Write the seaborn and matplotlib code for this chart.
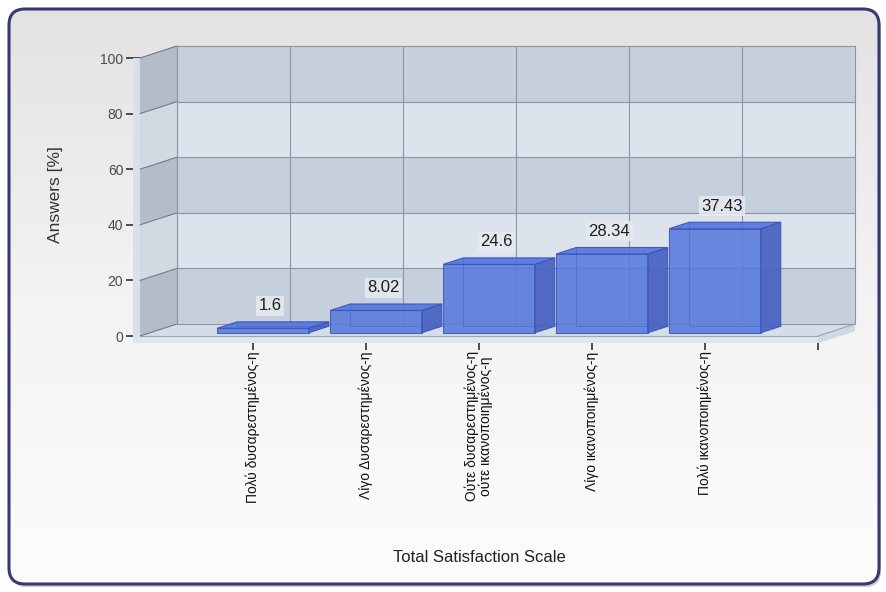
import matplotlib
matplotlib.use("Agg")
import matplotlib.pyplot as plt
import numpy as np
import pandas as pd
import seaborn as sns
from matplotlib.patches import Polygon, FancyBboxPatch, Rectangle
from matplotlib.colors import LinearSegmentedColormap

# ---- data -------------------------------------------------------------
categories = [
    "Πολύ δυσαρεστημένος-η",
    "Λίγο Δυσαρεστημένος-η",
    "Ούτε δυσαρεστημένος-η\nούτε ικανοποιημένος-η",
    "Λίγο ικανοποιημένος-η",
    "Πολύ ικανοποιημένος-η",
]
answers = [1.6, 8.02, 24.6, 28.34, 37.43]
y_ticks = [0, 20, 40, 60, 80, 100]
x_title = "Total Satisfaction Scale"
y_title = "Answers [%]"

df = pd.DataFrame({"category": categories, "answer": answers})

# ---- figure / theme ---------------------------------------------------
W, H = 887, 592
sns.set_theme(style="white")
plt.rcParams["font.family"] = ["Liberation Sans", "DejaVu Sans"]

fig = plt.figure(figsize=(W / 100, H / 100), dpi=100)
fig.patch.set_facecolor("white")

# rounded panel with a soft vertical gradient
bg = fig.add_axes([0, 0, 1, 1], zorder=0)
bg.set_xlim(0, W)
bg.set_ylim(H, 0)
bg.axis("off")
shadow = FancyBboxPatch((11, 11), 870, 576, boxstyle="round,pad=0,rounding_size=16",
                        fc="#9a9a9a", ec="none", alpha=0.5)
bg.add_patch(shadow)
panel = FancyBboxPatch((9, 9), 870, 575, boxstyle="round,pad=0,rounding_size=16",
                       fc="none", ec="#363a74", lw=2.2, zorder=3)
bg.add_patch(panel)
grad = np.linspace(0, 1, 256)[:, None]
cmap_bg = LinearSegmentedColormap.from_list("panel", ["#e2e2e2", "#f3f3f3", "#fdfdfd"])
im = bg.imshow(grad, extent=(0, W, H, 0), cmap=cmap_bg, aspect="auto", zorder=1)
im.set_clip_path(panel)

# ---- plotting axes (pixel geometry of the pseudo-3D box) --------------
X0, SX = 253.0, 113.0   # pixel of category 0, pixels per category
Y0, SY = 336.0, 2.78    # pixel of value 0, pixels per percent
xmin, xmax = -1.0, 5.45
ymin, ymax = 0.0, 105.0
left_px = X0 + xmin * SX
right_px = X0 + xmax * SX
bot_px = Y0 - ymin * SY
top_px = Y0 - ymax * SY
ax = fig.add_axes([left_px / W, (H - bot_px) / H,
                   (right_px - left_px) / W, (bot_px - top_px) / H], zorder=2)
ax.set_facecolor("none")

DX, DY = 37.0 / SX, 12.0 / SY   # wall depth in data units

bar_face = "#5579de"
bar_top = "#5675e0"
bar_side = "#4662c2"
bar_edge = "#3a54b6"

sns.barplot(data=df, x="category", y="answer", color=bar_face, saturation=1,
            width=0.81, errorbar=None, edgecolor=bar_edge, linewidth=0.8,
            alpha=0.86, ax=ax, zorder=5)
bars = list(ax.patches)

# walls and floor
dark_band, light_band = "#c6d0dd", "#dde3ec"
side_dark, side_light = "#b3bcc9", "#d2d9e3"
for i, (a, b) in enumerate(zip(y_ticks[:-1], y_ticks[1:])):
    even = i % 2 == 0
    ax.add_patch(Rectangle((xmin + DX, a + DY), 6, b - a,
                           fc=dark_band if even else light_band, ec="none", zorder=0.5))
    ax.add_patch(Polygon([(xmin, a), (xmin + DX, a + DY), (xmin + DX, b + DY), (xmin, b)],
                         closed=True, fc=side_dark if even else side_light, ec="none",
                         zorder=0.6, clip_on=False))

ax.add_patch(Polygon([(xmin, 0), (5, 0), (5 + DX, DY), (xmin + DX, DY)], closed=True,
                     fc="#d5dde8", ec="none", zorder=0.7, clip_on=False))
# floor slab
slab = 2.6
ax.add_patch(Polygon([(xmin - 0.06, -slab), (5, -slab), (5, 0), (xmin - 0.06, 0)], closed=True,
                     fc="#dfe6ee", ec="none", zorder=0.7, clip_on=False))
ax.add_patch(Polygon([(5, -slab), (5 + DX, DY - slab), (5 + DX, DY), (5, 0)], closed=True,
                     fc="#cfd8e3", ec="none", zorder=0.7, clip_on=False))
ax.add_patch(Rectangle((xmin - 0.06, 0), 0.06, 100, fc="#d9e0e9", ec="none",
                       zorder=0.6, clip_on=False))

grid_c = "#8a95a6"
for v in y_ticks:
    ax.plot([xmin + DX, 5 + DX], [v + DY, v + DY], color=grid_c, lw=0.8, zorder=0.8)
    ax.plot([xmin, xmin + DX], [v, v + DY], color="#6f7a8a", lw=0.8, zorder=0.8, clip_on=False)
for k in range(len(categories) + 1):
    xs = k + DX if k < len(categories) else 5 + DX
    ax.plot([xs, xs], [DY, 100 + DY], color=grid_c, lw=0.8, zorder=0.8)
ax.plot([xmin + DX, xmin + DX], [DY, 100 + DY], color=grid_c, lw=0.8, zorder=0.8)
ax.plot([xmin, 5], [0, 0], color="#9aa5b4", lw=0.8, zorder=0.9, clip_on=False)
ax.plot([5, 5 + DX], [0, DY], color="#9aa5b4", lw=0.8, zorder=0.9, clip_on=False)

# extrude each bar into a box
f0, f1 = 0.27, 0.81
ddx, ddy = (f1 - f0) * DX, (f1 - f0) * DY
for p, v in zip(bars, answers):
    p.set_x(p.get_x() + f0 * DX)
    p.set_y(f0 * DY)
    xl = p.get_x()
    xr = xl + p.get_width()
    yb = p.get_y()
    yt = yb + p.get_height()
    ax.add_patch(Polygon([(xl, yt), (xr, yt), (xr + ddx, yt + ddy), (xl + ddx, yt + ddy)],
                         closed=True, fc=bar_top, ec=bar_edge, lw=0.8, alpha=0.92, zorder=5.2))
    ax.add_patch(Polygon([(xr, yb), (xr + ddx, yb + ddy), (xr + ddx, yt + ddy), (xr, yt)],
                         closed=True, fc=bar_side, ec=bar_edge, lw=0.8, alpha=0.92, zorder=5.1))
    # hidden back edges showing through the translucent box
    ax.plot([xl + ddx, xl + ddx, xr + ddx], [yt + ddy, yb + ddy, yb + ddy],
            color=bar_edge, lw=0.6, alpha=0.45, zorder=5.3)
    cx = xl + p.get_width() / 2 + ddx / 2
    ax.annotate(f"{v:g}", xy=(cx, yt + ddy / 2), xytext=(-2, 14), textcoords="offset points",
                ha="center", va="center", fontsize=12, color="#1e1e1e", zorder=6,
                bbox=dict(boxstyle="square,pad=0.15", fc="#e6ebf0", ec="none", alpha=0.85))

ax.set_xlim(xmin, xmax)
ax.set_ylim(ymin, ymax)
for s in ax.spines.values():
    s.set_visible(False)

ax.set_yticks(y_ticks)
ax.set_yticklabels([str(t) for t in y_ticks])
ax.set_xticks(range(len(categories) + 1))
ax.set_xticklabels(categories + [""], rotation=90, va="top", ha="center",
                   fontsize=10, color="#111111", linespacing=0.95)
ax.tick_params(axis="y", left=True, length=10, width=1.1, color="#202020",
               labelsize=10, labelcolor="#4a4a4a", pad=2)
ax.tick_params(axis="x", bottom=True, length=10, width=1.1, color="#202020", pad=1)
ax.set_xlabel("")
ax.set_ylabel("")

fig.text(56 / W, 1 - 195 / H, y_title, rotation=90, ha="center", va="center",
         fontsize=12.5, color="#333333")
fig.text(479 / W, 1 - 558 / H, x_title, ha="center", va="center",
         fontsize=12, color="#222222")

fig.savefig("out.png", dpi=100)
